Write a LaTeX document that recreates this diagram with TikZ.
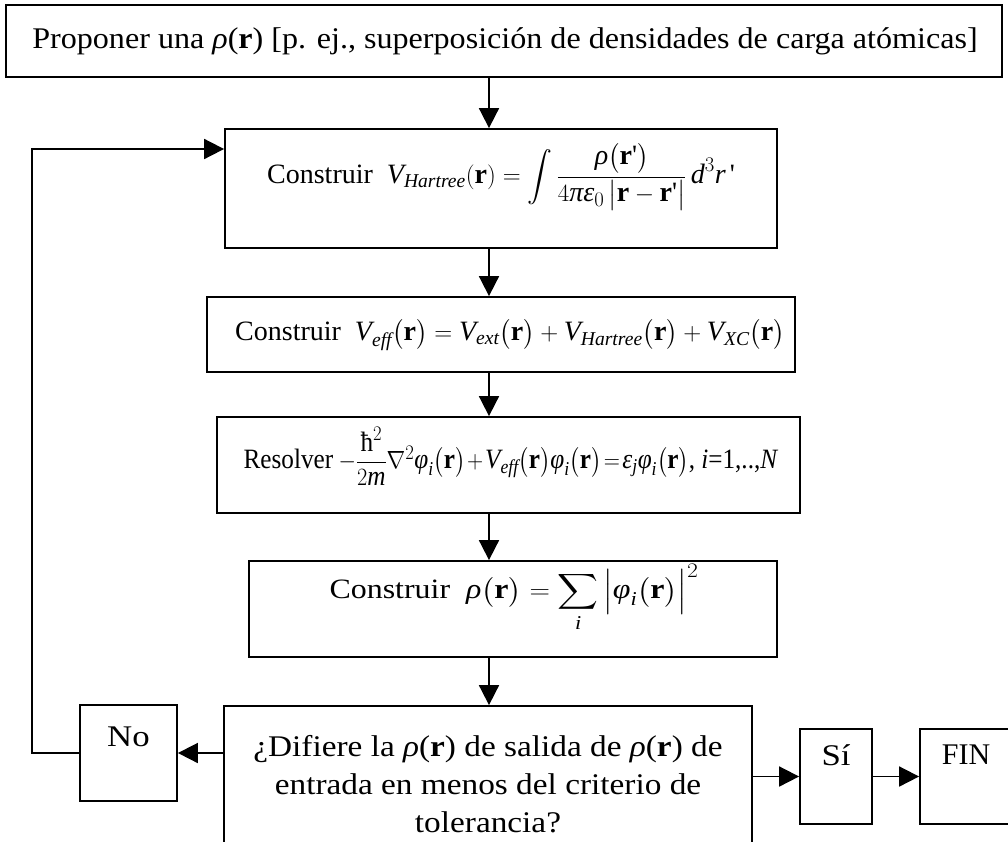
\documentclass[tikz,border=0pt]{standalone}
\usepackage{amsmath}
\usepackage{graphicx}
\usepackage{fontspec}
\setmainfont{Liberation Serif}
\newfontfamily\rawserif{Liberation Serif}
\usetikzlibrary{arrows.meta}
\newcommand{\bfr}{\textbf{r}}
\newcommand{\mi}[1]{\textit{#1}}
\newcommand{\apos}{\text{\rawserif\upshape '}}
\newcommand{\sx}[2]{\scalebox{#1}[1]{#2}}
\begin{document}
\begin{tikzpicture}[x=1pt,y=-1pt,
  box/.style={draw, line width=1.8pt, inner sep=0pt},
  arr/.style={line width=1.8pt, -{Triangle[length=20pt,width=20pt]}},
  txt/.style={font=\fontsize{28}{36}\selectfont, inner sep=0pt, align=center},
  ptxt/.style={font=\fontsize{30}{38}\selectfont, inner sep=0pt, align=center}]
\useasboundingbox (0,0) rectangle (1008,841);
\clip (0,0) rectangle (1008,841);
\fill[white] (0,0) rectangle (1008,841);
% boxes
\node[box, minimum width=996pt, minimum height=72pt] (b1) at (504,41) {};
\node[box, minimum width=552pt, minimum height=119pt] (b2) at (501,188.5) {};
\node[box, minimum width=588pt, minimum height=75pt] (b3) at (501,334.5) {};
\node[box, minimum width=583pt, minimum height=96pt] (b4) at (508.5,465) {};
\node[box, minimum width=528pt, minimum height=96pt] (b5) at (513,609) {};
\node[box, minimum width=528pt, minimum height=174pt] (b6) at (488,793) {};
\node[box, minimum width=97pt, minimum height=96pt] (no) at (128.5,753) {};
\node[box, minimum width=72pt, minimum height=95pt] (si) at (836,776.5) {};
\node[box, minimum width=120pt, minimum height=95pt] (fin) at (980,776.5) {};
% texts
\node[ptxt] (t1) at (505,41) {\sx{1.07}{Proponer una \mi{ρ}(\textbf{r}) [p. ej., superposición de densidades de carga atómicas]}};
\node[txt] (t2) at (501,177) {Construir \ $\mi{V}_{\mi{Hartree}}(\bfr)=\displaystyle\int\frac{\mi{ρ}\big(\bfr\apos\big)}{4\mi{π}\mi{ε}_0\,\big|\bfr-\bfr\apos\big|}\,\mi{d}^3\mi{r}\,\apos$};
\node[txt] (t3) at (510,335) {Construir \ $\mi{V}_{\mi{eff}}\big(\bfr\big)=\mi{V}_{\mi{ext}}\big(\bfr\big)+\mi{V}_{\mi{Hartree}}\big(\bfr\big)+\mi{V}_{\mi{XC}}\big(\bfr\big)$};
\node[txt] (t4) at (511,456) {\sx{0.9}{\medmuskip=1.5mu \thickmuskip=2mu Resolver\hspace{6pt}$-\dfrac{\text{ħ}^2}{2\mi{m}}\nabla^2\mi{φ}_{\mi{i}}\big(\bfr\big)+\mi{V}_{\mi{eff}}\big(\bfr\big)\mi{φ}_{\mi{i}}\big(\bfr\big)=\mi{ε}_{\mi{j}}\mi{φ}_{\mi{i}}\big(\bfr\big)$, \mi{i}=1,..,\mi{N}}};
\node[txt] (t5) at (514,598) {\sx{1.14}{Construir \ $\mi{ρ}\big(\bfr\big)=\displaystyle\sum_{\mi{i}}\Big|\mi{φ}_{\mi{i}}\big(\bfr\big)\Big|^2$}};
\node[ptxt] (tq) at (488,784) {\sx{1.11}{¿Difiere la \mi{ρ}(\textbf{r}) de salida de \mi{ρ}(\textbf{r}) de}\\[0pt]\sx{1.11}{entrada en menos del criterio de}\\[0pt]\sx{1.11}{tolerancia?}};
\node[ptxt] (tno) at (128.5,737) {\sx{1.16}{No}};
\node[ptxt] (tsi) at (836,755) {\sx{1.16}{Sí}};
\node[ptxt] (tfin) at (966,755) {FIN};
% connectors
\coordinate (ax) at (489,0);
\coordinate (lp) at (32,149);
\draw[arr] (b1.south -| ax) -- (b2.north -| ax);
\draw[arr] (b2.south -| ax) -- (b3.north -| ax);
\draw[arr] (b3.south -| ax) -- (b4.north -| ax);
\draw[arr] (b4.south -| ax) -- (b5.north -| ax);
\draw[arr] (b5.south -| ax) -- (b6.north -| ax);
\draw[arr] (no.east -| b6.west) -- (no.east);
\draw[arr] (no.west) -| (lp) -- (lp -| b2.west);
\draw[arr] (si.west -| b6.east) -- (si.west);
\draw[arr] (si.east) -- (fin.west);
\end{tikzpicture}
\end{document}
